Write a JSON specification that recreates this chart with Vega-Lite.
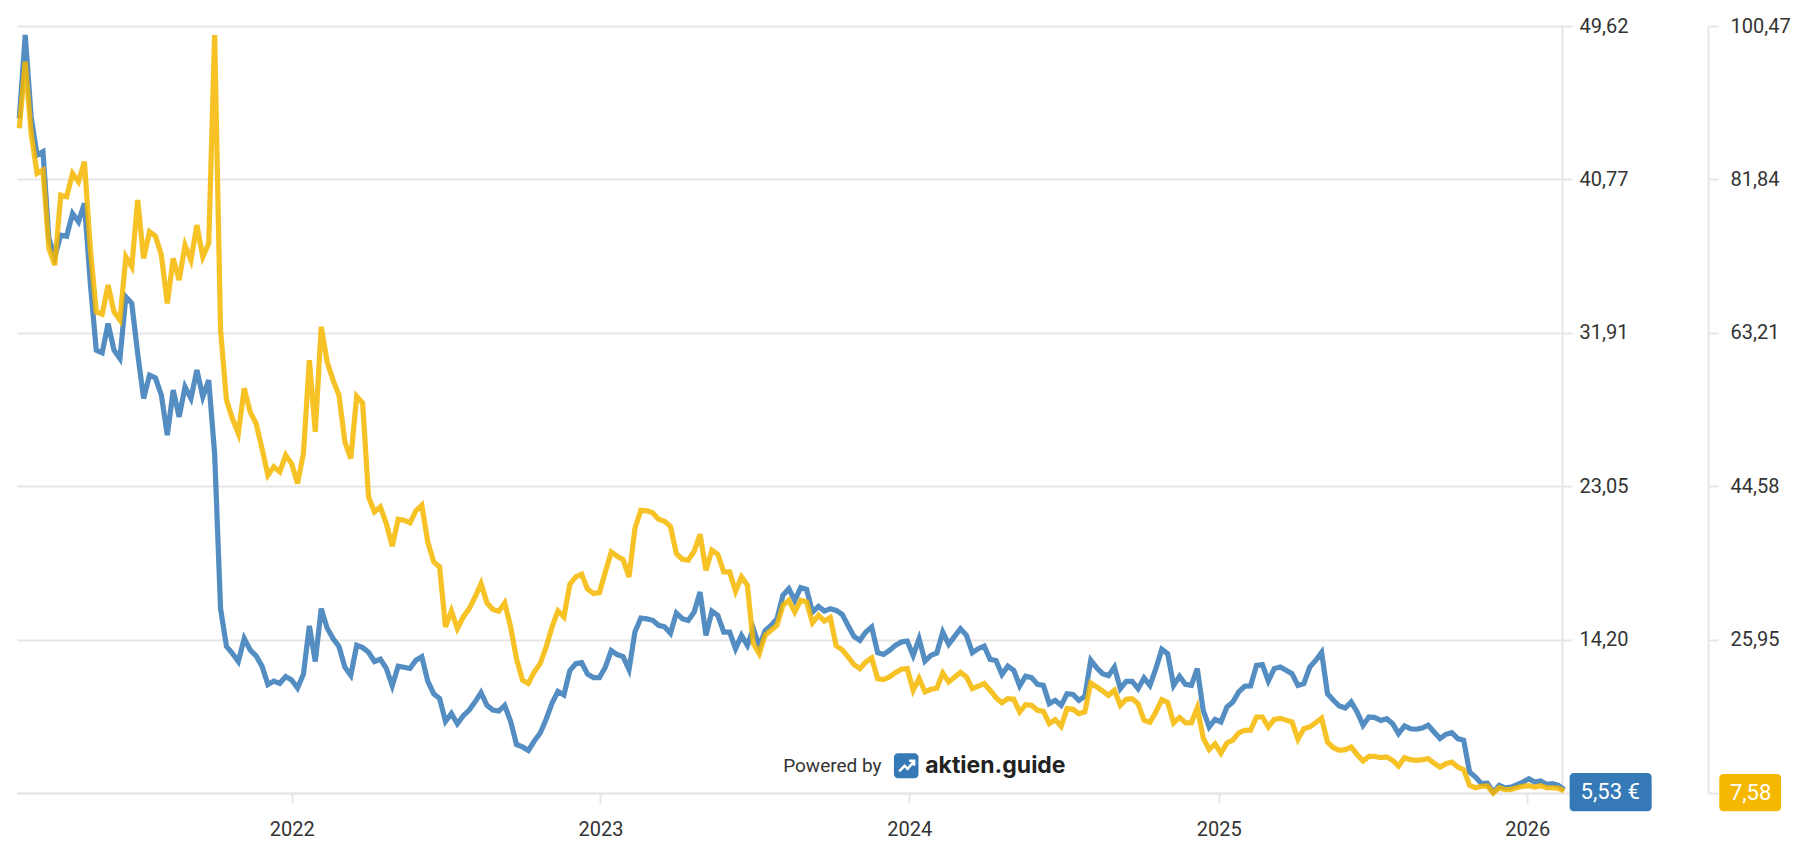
{"$schema":"https://vega.github.io/schema/vega-lite/v6.json","autosize":{"type":"none"},"width":1545,"height":767,"padding":{"left":17,"top":26,"right":248,"bottom":60},"background":"white","config":{"view":{"stroke":null},"font":"Roboto"},
"datasets":{"prices":[
{"date":"2021-02-10","blue":44.29,"yellow":88.04},{"date":"2021-02-17","blue":49.1,"yellow":96.14},{"date":"2021-02-24","blue":44.38,"yellow":87.43},{"date":"2021-03-03","blue":42.17,"yellow":82.57},{"date":"2021-03-10","blue":42.36,"yellow":82.97},{"date":"2021-03-17","blue":37.36,"yellow":73.46},{"date":"2021-03-24","blue":36.3,"yellow":71.43},{"date":"2021-03-31","blue":37.55,"yellow":79.94},{"date":"2021-04-07","blue":37.49,"yellow":79.73},{"date":"2021-04-14","blue":38.8,"yellow":82.57},{"date":"2021-04-21","blue":38.32,"yellow":81.56},{"date":"2021-04-28","blue":39.38,"yellow":83.99},{"date":"2021-05-05","blue":34.76,"yellow":73.46},{"date":"2021-05-12","blue":30.91,"yellow":65.76},{"date":"2021-05-19","blue":30.76,"yellow":65.48},{"date":"2021-05-26","blue":32.45,"yellow":69.0},{"date":"2021-06-02","blue":30.91,"yellow":65.76},{"date":"2021-06-09","blue":30.43,"yellow":64.75},{"date":"2021-06-16","blue":33.99,"yellow":72.44},{"date":"2021-06-23","blue":33.61,"yellow":71.23},{"date":"2021-06-30","blue":30.72,"yellow":79.33},{"date":"2021-07-07","blue":28.12,"yellow":72.24},{"date":"2021-07-14","blue":29.47,"yellow":75.48},{"date":"2021-07-21","blue":29.31,"yellow":74.95},{"date":"2021-07-28","blue":28.31,"yellow":72.65},{"date":"2021-08-04","blue":26.0,"yellow":66.77},{"date":"2021-08-11","blue":28.6,"yellow":72.24},{"date":"2021-08-18","blue":27.06,"yellow":69.61},{"date":"2021-08-25","blue":28.79,"yellow":73.86},{"date":"2021-09-01","blue":28.12,"yellow":72.04},{"date":"2021-09-08","blue":29.76,"yellow":76.29},{"date":"2021-09-15","blue":28.22,"yellow":72.44},{"date":"2021-09-22","blue":29.18,"yellow":74.06},{"date":"2021-09-29","blue":24.94,"yellow":99.38},{"date":"2021-10-06","blue":15.99,"yellow":63.53},{"date":"2021-10-13","blue":13.81,"yellow":55.03},{"date":"2021-10-20","blue":13.41,"yellow":52.8},{"date":"2021-10-27","blue":12.94,"yellow":50.98},{"date":"2021-11-03","blue":14.27,"yellow":56.45},{"date":"2021-11-10","blue":13.61,"yellow":53.61},{"date":"2021-11-17","blue":13.27,"yellow":52.2},{"date":"2021-11-24","blue":12.67,"yellow":49.16},{"date":"2021-12-01","blue":11.61,"yellow":45.92},{"date":"2021-12-08","blue":11.81,"yellow":46.93},{"date":"2021-12-15","blue":11.68,"yellow":46.32},{"date":"2021-12-22","blue":12.07,"yellow":48.35},{"date":"2021-12-29","blue":11.87,"yellow":47.33},
{"date":"2022-01-05","blue":11.41,"yellow":44.9},{"date":"2022-01-12","blue":12.21,"yellow":48.55},{"date":"2022-01-19","blue":15.0,"yellow":59.89},{"date":"2022-01-26","blue":12.94,"yellow":51.18},{"date":"2022-02-02","blue":15.99,"yellow":63.94},{"date":"2022-02-09","blue":14.87,"yellow":59.69},{"date":"2022-02-16","blue":14.27,"yellow":57.46},{"date":"2022-02-23","blue":13.81,"yellow":55.64},{"date":"2022-03-02","blue":12.61,"yellow":49.97},{"date":"2022-03-09","blue":12.14,"yellow":47.94},{"date":"2022-03-16","blue":13.87,"yellow":55.5},{"date":"2022-03-23","blue":13.74,"yellow":54.67},{"date":"2022-03-30","blue":13.47,"yellow":43.28},{"date":"2022-04-06","blue":12.94,"yellow":41.46},{"date":"2022-04-13","blue":13.07,"yellow":42.07},{"date":"2022-04-20","blue":12.54,"yellow":40.04},{"date":"2022-04-27","blue":11.54,"yellow":37.29},{"date":"2022-05-04","blue":12.67,"yellow":40.57},{"date":"2022-05-11","blue":12.61,"yellow":40.45},{"date":"2022-05-18","blue":12.54,"yellow":40.13},{"date":"2022-05-25","blue":13.01,"yellow":41.58},{"date":"2022-06-01","blue":13.21,"yellow":42.27},{"date":"2022-06-08","blue":11.81,"yellow":37.82},{"date":"2022-06-15","blue":11.08,"yellow":35.39},{"date":"2022-06-22","blue":10.81,"yellow":34.78},{"date":"2022-06-29","blue":9.48,"yellow":27.49},{"date":"2022-07-06","blue":9.94,"yellow":29.43},{"date":"2022-07-13","blue":9.35,"yellow":27.29},{"date":"2022-07-20","blue":9.81,"yellow":28.7},{"date":"2022-07-27","blue":10.14,"yellow":29.72},{"date":"2022-08-03","blue":10.61,"yellow":31.13},{"date":"2022-08-10","blue":11.14,"yellow":32.75},{"date":"2022-08-17","blue":10.41,"yellow":30.41},{"date":"2022-08-24","blue":10.14,"yellow":29.6},{"date":"2022-08-31","blue":10.08,"yellow":29.4},{"date":"2022-09-07","blue":10.41,"yellow":30.41},{"date":"2022-09-14","blue":9.48,"yellow":27.49},{"date":"2022-09-21","blue":8.15,"yellow":23.6},{"date":"2022-09-28","blue":8.01,"yellow":21.05},{"date":"2022-10-05","blue":7.81,"yellow":20.63},{"date":"2022-10-12","blue":8.35,"yellow":22.03},{"date":"2022-10-19","blue":8.81,"yellow":23.03},{"date":"2022-10-26","blue":9.61,"yellow":25.06},{"date":"2022-11-02","blue":10.54,"yellow":27.49},{"date":"2022-11-09","blue":11.21,"yellow":29.43},{"date":"2022-11-16","blue":11.01,"yellow":28.7},{"date":"2022-11-23","blue":12.41,"yellow":32.67},{"date":"2022-11-30","blue":12.81,"yellow":33.56},{"date":"2022-12-07","blue":12.87,"yellow":33.89},{"date":"2022-12-14","blue":12.21,"yellow":32.07},{"date":"2022-12-21","blue":12.01,"yellow":31.54},{"date":"2022-12-28","blue":12.01,"yellow":31.66},
{"date":"2023-01-04","blue":12.61,"yellow":34.17},{"date":"2023-01-11","blue":13.57,"yellow":36.6},{"date":"2023-01-18","blue":13.34,"yellow":36.08},{"date":"2023-01-25","blue":13.22,"yellow":35.67},{"date":"2023-02-01","blue":12.47,"yellow":33.56},{"date":"2023-02-08","blue":14.65,"yellow":39.44},{"date":"2023-02-15","blue":15.45,"yellow":41.66},{"date":"2023-02-22","blue":15.4,"yellow":41.58},{"date":"2023-03-01","blue":15.32,"yellow":41.34},{"date":"2023-03-08","blue":15.03,"yellow":40.57},{"date":"2023-03-15","blue":14.94,"yellow":40.33},{"date":"2023-03-22","blue":14.57,"yellow":39.7},{"date":"2023-03-29","blue":15.74,"yellow":36.4},{"date":"2023-04-05","blue":15.41,"yellow":35.71},{"date":"2023-04-12","blue":15.31,"yellow":35.59},{"date":"2023-04-19","blue":15.79,"yellow":36.68},{"date":"2023-04-26","blue":16.95,"yellow":38.74},{"date":"2023-05-03","blue":14.45,"yellow":34.37},{"date":"2023-05-10","blue":15.85,"yellow":36.8},{"date":"2023-05-17","blue":15.6,"yellow":36.31},{"date":"2023-05-24","blue":14.64,"yellow":34.17},{"date":"2023-05-31","blue":14.64,"yellow":34.17},{"date":"2023-06-07","blue":13.68,"yellow":31.82},{"date":"2023-06-14","blue":14.45,"yellow":33.56},{"date":"2023-06-21","blue":13.87,"yellow":32.55},{"date":"2023-06-28","blue":14.83,"yellow":25.46},{"date":"2023-07-05","blue":13.81,"yellow":24.24},{"date":"2023-07-12","blue":14.73,"yellow":26.47},{"date":"2023-07-19","blue":15.02,"yellow":27.08},{"date":"2023-07-26","blue":15.41,"yellow":27.69},{"date":"2023-08-02","blue":16.76,"yellow":30.12},{"date":"2023-08-09","blue":17.14,"yellow":30.72},{"date":"2023-08-16","blue":16.47,"yellow":29.31},{"date":"2023-08-23","blue":17.2,"yellow":30.72},{"date":"2023-08-30","blue":17.1,"yellow":30.52},{"date":"2023-09-06","blue":15.79,"yellow":28.01},{"date":"2023-09-13","blue":16.12,"yellow":28.9},{"date":"2023-09-20","blue":15.85,"yellow":28.21},{"date":"2023-09-27","blue":15.99,"yellow":28.62},{"date":"2023-10-04","blue":15.89,"yellow":25.18},{"date":"2023-10-11","blue":15.66,"yellow":24.73},{"date":"2023-10-18","blue":15.02,"yellow":23.84},{"date":"2023-10-25","blue":14.39,"yellow":22.91},{"date":"2023-11-01","blue":14.16,"yellow":22.42},{"date":"2023-11-08","blue":14.64,"yellow":23.23},{"date":"2023-11-15","blue":14.93,"yellow":23.72},{"date":"2023-11-22","blue":13.45,"yellow":21.21},{"date":"2023-11-29","blue":13.35,"yellow":21.09},{"date":"2023-12-06","blue":13.58,"yellow":21.42},{"date":"2023-12-13","blue":13.87,"yellow":21.94},{"date":"2023-12-20","blue":14.06,"yellow":22.35},{"date":"2023-12-27","blue":14.12,"yellow":22.43},
{"date":"2024-01-03","blue":13.29,"yellow":19.8},{"date":"2024-01-10","blue":14.25,"yellow":21.25},{"date":"2024-01-17","blue":12.96,"yellow":19.6},{"date":"2024-01-24","blue":13.29,"yellow":19.92},{"date":"2024-01-31","blue":13.43,"yellow":20.04},{"date":"2024-02-07","blue":14.64,"yellow":21.88},{"date":"2024-02-14","blue":13.93,"yellow":20.81},{"date":"2024-02-21","blue":14.39,"yellow":21.38},{"date":"2024-02-28","blue":14.83,"yellow":21.98},{"date":"2024-03-06","blue":14.45,"yellow":21.42},{"date":"2024-03-13","blue":13.45,"yellow":20.0},{"date":"2024-03-20","blue":13.68,"yellow":20.3},{"date":"2024-03-27","blue":13.83,"yellow":20.6},{"date":"2024-04-03","blue":13.06,"yellow":19.8},{"date":"2024-04-10","blue":13.0,"yellow":18.9},{"date":"2024-04-17","blue":12.19,"yellow":18.29},{"date":"2024-04-24","blue":12.67,"yellow":18.78},{"date":"2024-05-01","blue":12.43,"yellow":18.7},{"date":"2024-05-08","blue":11.53,"yellow":17.16},{"date":"2024-05-15","blue":12.09,"yellow":18.05},{"date":"2024-05-22","blue":12.01,"yellow":17.97},{"date":"2024-05-29","blue":11.62,"yellow":17.36},{"date":"2024-06-05","blue":11.56,"yellow":17.24},{"date":"2024-06-12","blue":10.51,"yellow":15.74},{"date":"2024-06-19","blue":10.7,"yellow":16.23},{"date":"2024-06-26","blue":10.41,"yellow":15.42},{"date":"2024-07-03","blue":11.08,"yellow":17.56},{"date":"2024-07-10","blue":11.04,"yellow":17.48},{"date":"2024-07-17","blue":10.7,"yellow":16.96},{"date":"2024-07-24","blue":10.93,"yellow":17.16},{"date":"2024-07-31","blue":13.01,"yellow":20.68},{"date":"2024-08-07","blue":12.58,"yellow":20.2},{"date":"2024-08-14","blue":12.24,"yellow":19.71},{"date":"2024-08-21","blue":12.12,"yellow":19.18},{"date":"2024-08-28","blue":12.62,"yellow":19.79},{"date":"2024-09-04","blue":11.37,"yellow":17.97},{"date":"2024-09-11","blue":11.79,"yellow":18.7},{"date":"2024-09-18","blue":11.79,"yellow":18.78},{"date":"2024-09-25","blue":11.37,"yellow":18.17},{"date":"2024-10-02","blue":11.99,"yellow":16.15},{"date":"2024-10-09","blue":11.56,"yellow":15.9},{"date":"2024-10-16","blue":12.53,"yellow":17.16},{"date":"2024-10-23","blue":13.64,"yellow":18.66},{"date":"2024-10-30","blue":13.39,"yellow":18.33},{"date":"2024-11-06","blue":11.56,"yellow":15.83},{"date":"2024-11-13","blue":12.08,"yellow":16.5},{"date":"2024-11-20","blue":11.62,"yellow":15.87},{"date":"2024-11-27","blue":11.56,"yellow":15.85},{"date":"2024-12-04","blue":12.53,"yellow":17.67},{"date":"2024-12-11","blue":10.12,"yellow":14.0},{"date":"2024-12-18","blue":9.16,"yellow":12.6},{"date":"2024-12-25","blue":9.6,"yellow":13.3},
{"date":"2025-01-01","blue":9.45,"yellow":12.15},{"date":"2025-01-08","blue":10.31,"yellow":13.4},{"date":"2025-01-15","blue":10.6,"yellow":13.75},{"date":"2025-01-22","blue":11.18,"yellow":14.63},{"date":"2025-01-29","blue":11.51,"yellow":14.93},{"date":"2025-02-05","blue":11.53,"yellow":14.95},{"date":"2025-02-12","blue":12.72,"yellow":16.55},{"date":"2025-02-19","blue":12.76,"yellow":16.55},{"date":"2025-02-26","blue":11.81,"yellow":15.34},{"date":"2025-03-05","blue":12.53,"yellow":16.25},{"date":"2025-03-12","blue":12.62,"yellow":16.39},{"date":"2025-03-19","blue":12.43,"yellow":16.17},{"date":"2025-03-26","blue":12.24,"yellow":15.95},{"date":"2025-04-02","blue":11.56,"yellow":13.85},{"date":"2025-04-09","blue":11.66,"yellow":15.13},{"date":"2025-04-16","blue":12.62,"yellow":15.34},{"date":"2025-04-23","blue":13.0,"yellow":15.85},{"date":"2025-04-30","blue":13.46,"yellow":16.4},{"date":"2025-05-07","blue":11.08,"yellow":13.5},{"date":"2025-05-14","blue":10.7,"yellow":12.82},{"date":"2025-05-21","blue":10.37,"yellow":12.5},{"date":"2025-05-28","blue":10.26,"yellow":12.58},{"date":"2025-06-04","blue":10.6,"yellow":12.9},{"date":"2025-06-11","blue":10.03,"yellow":12.0},{"date":"2025-06-18","blue":9.26,"yellow":11.2},{"date":"2025-06-25","blue":9.74,"yellow":11.77},{"date":"2025-07-02","blue":9.7,"yellow":11.77},{"date":"2025-07-09","blue":9.54,"yellow":11.61},{"date":"2025-07-16","blue":9.64,"yellow":11.69},{"date":"2025-07-23","blue":9.35,"yellow":11.29},{"date":"2025-07-30","blue":8.78,"yellow":10.6},{"date":"2025-08-06","blue":9.22,"yellow":11.61},{"date":"2025-08-13","blue":9.06,"yellow":11.37},{"date":"2025-08-20","blue":9.03,"yellow":11.29},{"date":"2025-08-27","blue":9.1,"yellow":11.37},{"date":"2025-09-03","blue":9.26,"yellow":11.49},{"date":"2025-09-10","blue":8.87,"yellow":10.96},{"date":"2025-09-17","blue":8.49,"yellow":10.47},{"date":"2025-09-24","blue":8.74,"yellow":10.88},{"date":"2025-10-01","blue":8.83,"yellow":11.08},{"date":"2025-10-08","blue":8.49,"yellow":10.47},{"date":"2025-10-15","blue":8.39,"yellow":10.15},{"date":"2025-10-22","blue":6.56,"yellow":8.25},{"date":"2025-10-29","blue":6.27,"yellow":7.96},{"date":"2025-11-05","blue":5.89,"yellow":8.13},{"date":"2025-11-12","blue":5.92,"yellow":8.17},{"date":"2025-11-19","blue":5.4,"yellow":7.32},{"date":"2025-11-26","blue":5.79,"yellow":7.96},{"date":"2025-12-03","blue":5.65,"yellow":7.72},{"date":"2025-12-10","blue":5.69,"yellow":7.76},{"date":"2025-12-17","blue":5.83,"yellow":7.96},{"date":"2025-12-24","blue":5.98,"yellow":8.13},{"date":"2025-12-31","blue":6.17,"yellow":8.21},{"date":"2026-01-07","blue":5.98,"yellow":8.05},{"date":"2026-01-14","blue":6.04,"yellow":8.21},{"date":"2026-01-21","blue":5.85,"yellow":7.96},{"date":"2026-01-28","blue":5.89,"yellow":7.96},{"date":"2026-02-04","blue":5.79,"yellow":7.88},{"date":"2026-02-11","blue":5.53,"yellow":7.58}
],
"badges":[{"series":"blue","start":"2026-02-20","end":"2026-05-28","low":4.3,"high":6.5,"center":"2026-04-09","level":5.38,"label":"5,53 €"},{"series":"yellow","start":"2026-08-16","end":"2026-10-28","low":4.3,"high":6.45,"center":"2026-09-22","level":5.36,"label":"7,58"}]},
"layer":[
{"data":{"name":"prices"},"mark":{"type":"line","stroke":"#3579b7","strokeWidth":5.2,"opacity":0.85,"strokeJoin":"miter","xOffset":2.3},"encoding":{"x":{"field":"date","type":"temporal","title":null,"scale":{"type":"utc","domain":["2021-02-10","2026-02-11"]},"axis":{"format":"%Y","tickCount":{"interval":"year","step":1},"grid":false,"domainColor":"#e6e6e6","domainWidth":2,"tickColor":"#e6e6e6","tickWidth":2,"tickSize":10,"labelFont":"Roboto","labelFontSize":20,"labelColor":"#333333","labelPadding":16}},"y":{"field":"blue","type":"quantitative","title":null,"scale":{"domain":[5.35,49.62],"nice":false,"zero":false},"axis":{"orient":"right","values":[5.35,14.2,23.05,31.91,40.77,49.62],"labelExpr":"datum.value<6?'':replace(format(datum.value,'.2f'),'.',',')","grid":true,"gridColor":"#e6e6e6","gridWidth":2,"domainColor":"#e6e6e6","domainWidth":2,"tickColor":"#e6e6e6","tickWidth":2,"tickSize":10,"labelFont":"Roboto","labelFontSize":20,"labelColor":"#333333","labelPadding":7}}}},
{"data":{"name":"prices"},"mark":{"type":"line","stroke":"#f5b700","strokeWidth":5.2,"opacity":0.85,"strokeJoin":"miter","xOffset":2.3},"encoding":{"x":{"field":"date","type":"temporal"},"y":{"field":"yellow","type":"quantitative","title":null,"scale":{"domain":[7.32,100.47],"nice":false,"zero":false},"axis":{"orient":"right","offset":146,"values":[7.32,25.95,44.58,63.21,81.84,100.47],"labelExpr":"datum.value<8?'':replace(format(datum.value,'.2f'),'.',',')","grid":false,"domainColor":"#e6e6e6","domainWidth":2,"tickColor":"#e6e6e6","tickWidth":2,"tickSize":10,"labelFont":"Roboto","labelFontSize":20,"labelColor":"#333333","labelPadding":12}}}},
{"data":{"name":"badges"},"mark":{"type":"rect","cornerRadius":4},"encoding":{"x":{"field":"start","type":"temporal"},"x2":{"field":"end"},"y":{"field":"low","type":"quantitative","scale":{"domain":[5.35,49.62],"nice":false,"zero":false},"axis":null},"y2":{"field":"high"},"color":{"field":"series","type":"nominal","scale":{"domain":["blue","yellow"],"range":["#3579b7","#f5b700"]},"legend":null}}},
{"data":{"name":"badges"},"mark":{"type":"text","font":"Roboto","fontSize":22,"fill":"white","align":"center","baseline":"middle"},"encoding":{"x":{"field":"center","type":"temporal"},"y":{"field":"level","type":"quantitative","scale":{"domain":[5.35,49.62],"nice":false,"zero":false},"axis":null},"text":{"field":"label"}}},
{"data":{"values":[{"start":"2023-12-14","end":"2024-01-12","low":6.2,"high":7.64}]},"mark":{"type":"rect","cornerRadius":4,"fill":"#3579b7"},"encoding":{"x":{"field":"start","type":"temporal"},"x2":{"field":"end"},"y":{"field":"low","type":"quantitative","scale":{"domain":[5.35,49.62],"nice":false,"zero":false},"axis":null},"y2":{"field":"high"}}},
{"data":{"values":[{"date":"2023-12-29","level":6.92}]},"mark":{"type":"point","filled":false,"stroke":"white","strokeWidth":2.5,"opacity":1,"size":400,"shape":"M -0.75 0.55 L -0.2 0 L 0.1 0.3 L 0.7 -0.4 M 0.25 -0.5 L 0.75 -0.5 L 0.75 0"},"encoding":{"x":{"field":"date","type":"temporal"},"y":{"field":"level","type":"quantitative","scale":{"domain":[5.35,49.62],"nice":false,"zero":false},"axis":null}}},
{"data":{"values":[{"date":"2023-08-05","level":6.88,"label":"Powered by"}]},"mark":{"type":"text","font":"Roboto","fontSize":19,"fill":"#333333","align":"left","baseline":"middle"},"encoding":{"x":{"field":"date","type":"temporal"},"y":{"field":"level","type":"quantitative","scale":{"domain":[5.35,49.62],"nice":false,"zero":false},"axis":null},"text":{"field":"label"}}},
{"data":{"values":[{"date":"2024-01-20","level":6.92,"label":"aktien.guide"}]},"mark":{"type":"text","font":"Inter","fontWeight":700,"fontSize":23,"fill":"#222222","align":"left","baseline":"middle"},"encoding":{"x":{"field":"date","type":"temporal"},"y":{"field":"level","type":"quantitative","scale":{"domain":[5.35,49.62],"nice":false,"zero":false},"axis":null},"text":{"field":"label"}}}
],
"resolve":{"scale":{"y":"independent","color":"independent"}}}
